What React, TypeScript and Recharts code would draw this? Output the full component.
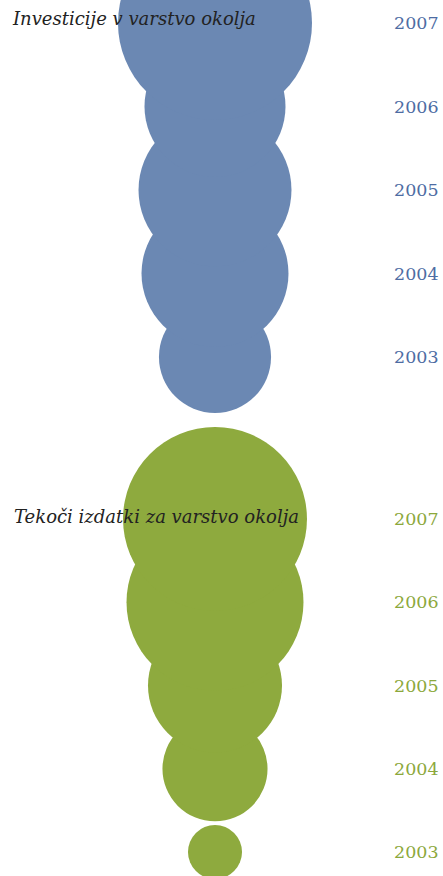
import React from 'react';
import { ScatterChart, Scatter, XAxis, YAxis, ZAxis } from 'recharts';

const years = [2003, 2004, 2005, 2006, 2007];
const investicije = [31.4, 54.0, 58.5, 49.7, 94.1];
const tekociIzdatki = [7.3, 27.6, 44.9, 78.3, 84.6];
const titleInv = 'Investicije v varstvo okolja';
const titleTek = 'Tekoči izdatki za varstvo okolja';

const BLUE = '#6b88b3';
const BLUE_LABEL = '#4d6ca3';
const GREEN = '#8eaa3e';
const GREEN_LABEL = '#8ca83c';
const FONT = '"DejaVu Serif", Georgia, serif';

const invData = years.map((y, i) => ({ x: 0, year: y, v: investicije[i] }));
const tekData = years.map((y, i) => ({ x: 0, year: y, v: tekociIzdatki[i] }));

const AREA_MAX = Math.PI * 10000;

function Bubbles({ data, fill, labelColor, width, height, margin }: any) {
  return (
    <ScatterChart width={width} height={height} margin={margin}>
      <XAxis type="number" dataKey="x" domain={[-1, 1]} hide />
      <YAxis
        type="number"
        dataKey="year"
        orientation="right"
        domain={[2003, 2007]}
        ticks={years}
        width={50}
        tickSize={0}
        tickMargin={1}
        axisLine={false}
        tickLine={false}
        tick={{ fill: labelColor, fontSize: 17.5, fontFamily: FONT }}
      />
      <ZAxis type="number" dataKey="v" domain={[0, 100]} range={[0, AREA_MAX]} />
      <Scatter data={data} fill={fill} isAnimationActive={false} />
    </ScatterChart>
  );
}

export default function App() {
  return (
    <div style={{ position: 'absolute', left: 0, top: 0, width: 443, height: 876, background: '#fff', overflow: 'hidden' }}>
      <div style={{ position: 'absolute', left: 0, top: 0 }}>
        <Bubbles
          data={invData}
          fill={BLUE}
          labelColor={BLUE_LABEL}
          width={443}
          height={420}
          margin={{ top: 23, right: 0, bottom: 63, left: 37 }}
        />
      </div>
      <div style={{ position: 'absolute', left: 0, top: 420 }}>
        <Bubbles
          data={tekData}
          fill={GREEN}
          labelColor={GREEN_LABEL}
          width={443}
          height={456}
          margin={{ top: 99, right: 0, bottom: 24, left: 37 }}
        />
      </div>
      <svg width={443} height={876} style={{ position: 'absolute', left: 0, top: 0, pointerEvents: 'none' }}>
        <text x={13} y={25} fontFamily={FONT} fontStyle="italic" fontSize={18} fill="#222">
          {titleInv}
        </text>
        <text x={14} y={523} fontFamily={FONT} fontStyle="italic" fontSize={18} fill="#222">
          {titleTek}
        </text>
      </svg>
    </div>
  );
}
